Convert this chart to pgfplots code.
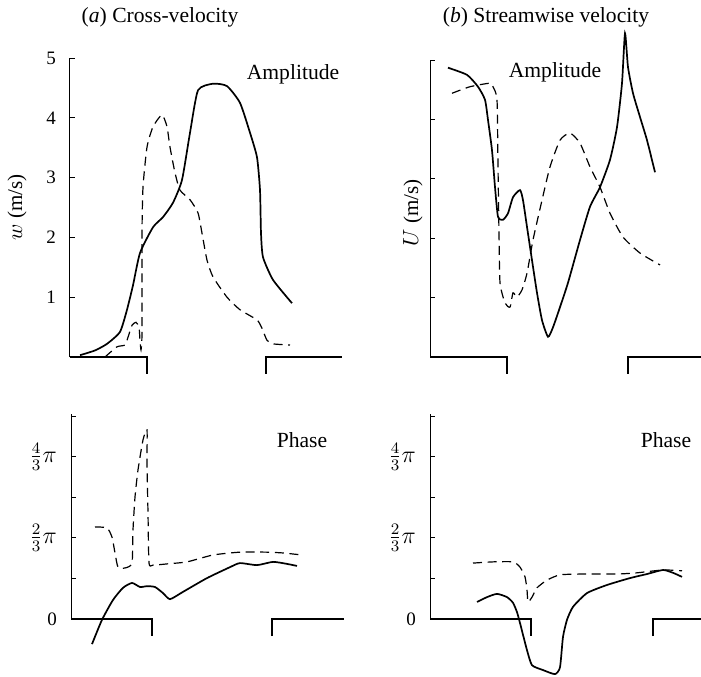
\documentclass[border=0pt]{standalone}
\usepackage{pgfplots}
\pgfplotsset{compat=1.18}
\usepackage{fontspec}
\setmainfont{Liberation Serif}
\pgfplotsset{
 panel/.style={
  scale only axis, axis x line=none, axis y line*=left,
  tick align=inside, major tick length=2.5pt, enlargelimits=false, clip=false,
  xtick=\empty, y axis line style={line width=0.5pt, black}, ytick style={line width=0.5pt, black},
  yticklabel style={font=\fontsize{9.5}{10}\selectfont, xshift=-3.5pt},
  ylabel style={font=\fontsize{10.5}{12}\selectfont, anchor=center},
 },
 sol/.style={black, line width=0.85pt, smooth, tension=0.35},
 das/.style={black, line width=0.6pt, smooth, tension=0.35, dash pattern=on 4.5pt off 2.8pt},
 step/.style={black, line width=1.1pt, sharp plot},
}
\newcommand{\lbl}{\fontsize{10.8}{12}\selectfont}
\newcommand{\zero}{{\fontsize{9.5}{10}\selectfont 0}}
\begin{document}
\begin{tikzpicture}
\useasboundingbox (0,0) rectangle (350.5pt,338pt);
% (a) amplitude
\begin{axis}[panel, at={(35pt,159.5pt)}, anchor=south west, width=136pt, height=149.5pt,
  xmin=0, xmax=272, ymin=0, ymax=5, ytick={1,2,3,4,5}, yticklabels={1,2,3,4,5},
  ylabel={$w$ (m/s)}, ylabel style={at={(axis description cs:-0.195,0.5)}}]
\addplot[step] coordinates {(0,0)(77,0)(77,-0.28)};
\addplot[step] coordinates {(196,-0.28)(196,0)(272,0)};
\addplot[sol] coordinates {(10,0.03)(25,0.11)(37,0.22)(50,0.42)(57,0.79)(63,1.2)(70,1.74)(83,2.17)(93,2.34)(103,2.58)(112,2.96)(120,3.75)(128,4.46)(143,4.57)(157,4.53)(170,4.25)(180,3.75)(187,3.34)(190,2.79)(191,2.07)(193,1.67)(203,1.29)(222,0.90)};
\addplot[das] coordinates {(35,0)(47,0.17)(55,0.2)(58,0.33)(62,0.53)(66,0.58)(69,0.5)(70,0.28)(71,0.12)(72,0.4)(72,2.07)(73,2.84)(77,3.51)(83,3.85)(92,4.05)(97,3.85)(100,3.51)(105,3.08)(110,2.79)(120,2.63)(128,2.41)(132,2.07)(137,1.62)(143,1.34)(157,1.0)(170,0.79)(187,0.62)(192,0.48)(197,0.28)(203,0.22)(220,0.2)};
\node[font=\lbl] at (axis cs:223,4.73) {Amplitude};
\node[font=\lbl] at (axis description cs:0.331,1.137) {(\textit{a}) Cross-velocity};
\end{axis}
% (b) amplitude
\begin{axis}[panel, at={(215pt,159.5pt)}, anchor=south west, width=135.5pt, height=148.5pt,
  xmin=0, xmax=271, ymin=0, ymax=5, ytick={1,2,3,4,5}, yticklabels={},
  ylabel={$U$ (m/s)}, ylabel style={at={(axis description cs:-0.063,0.485)}}]
\addplot[step] coordinates {(0,0)(77,0)(77,-0.28)};
\addplot[step] coordinates {(198,-0.28)(198,0)(271,0)};
\addplot[sol] coordinates {(18,4.87)(37,4.75)(48,4.55)(55,4.33)(58,3.99)(62,3.48)(65,2.86)(68,2.36)(73,2.31)(78,2.42)(83,2.69)(90,2.81)(93,2.64)(97,2.19)(102,1.63)(107,1.08)(112,0.62)(118,0.34)(123,0.5)(130,0.84)(138,1.25)(150,1.97)(160,2.53)(170,2.86)(180,3.32)(187,3.87)(192,4.61)(195,5.45)(198,4.88)(203,4.44)(210,4.04)(217,3.65)(225,3.11)};
\addplot[das] coordinates {(22,4.44)(40,4.55)(60,4.61)(63,4.55)(67,4.33)(68,3.2)(69,2.09)(70,1.25)(75,0.91)(80,0.84)(83,1.08)(87,1.01)(92,1.13)(97,1.41)(103,1.97)(112,2.64)(120,3.2)(130,3.65)(140,3.77)(150,3.6)(160,3.2)(170,2.86)(180,2.42)(193,2.02)(210,1.75)(230,1.55)};
\node[font=\lbl] at (axis cs:125,4.8) {Amplitude};
\node[font=\lbl] at (axis description cs:0.428,1.145) {(\textit{b}) Streamwise velocity};
\end{axis}
% (a) phase
\begin{axis}[panel, at={(35.5pt,28.5pt)}, anchor=south west, width=136.5pt, height=102.3pt,
  xmin=0, xmax=273, ymin=0, ymax=5.05, ytick={0,1,2,3,4,5},
  yticklabel style={font=\fontsize{11.5}{12}\selectfont},
  yticklabels={\zero,,$\frac{2}{3}\pi$,,$\frac{4}{3}\pi$,}]
\addplot[step] coordinates {(0,0)(81,0)(81,-0.42)};
\addplot[step] coordinates {(201,-0.42)(201,0)(273,0)};
\addplot[sol] coordinates {(21,-0.62)(31,-0.02)(42,0.47)(52,0.77)(61,0.89)(69,0.79)(76,0.81)(84,0.79)(92,0.64)(99,0.49)(112,0.67)(136,1.01)(159,1.28)(169,1.38)(186,1.33)(202,1.41)(216,1.36)(226,1.31)};
\addplot[das] coordinates {(24,2.27)(36,2.25)(41,2.02)(44,1.63)(47,1.28)(54,1.26)(61,1.38)(62,2.2)(64,3.01)(67,3.68)(72,4.42)(76,4.67)(76,3.85)(77,2.62)(78,1.38)(82,1.33)(96,1.36)(116,1.41)(142,1.58)(169,1.65)(196,1.65)(212,1.63)(231,1.58)};
\node[font=\lbl] at (axis cs:231,4.42) {Phase};
\end{axis}
% (b) phase
\begin{axis}[panel, at={(215pt,28.5pt)}, anchor=south west, width=135.5pt, height=102.3pt,
  xmin=0, xmax=271, ymin=0, ymax=5.05, ytick={0,1,2,3,4,5},
  yticklabel style={font=\fontsize{11.5}{12}\selectfont},
  yticklabels={\zero,,$\frac{2}{3}\pi$,,$\frac{4}{3}\pi$,}]
\addplot[step] coordinates {(0,0)(101,0)(101,-0.42)};
\addplot[step] coordinates {(223,-0.42)(223,0)(271,0)};
\addplot[sol] coordinates {(47,0.42)(57,0.54)(67,0.62)(77,0.54)(83,0.4)(87,0.17)(90,-0.1)(97,-0.77)(102,-1.14)(113,-1.26)(125,-1.36)(130,-1.19)(133,-0.44)(137,-0.02)(143,0.3)(157,0.64)(177,0.84)(200,1.01)(217,1.11)(233,1.21)(243,1.14)(252,1.04)};
\addplot[das] coordinates {(43,1.38)(63,1.41)(83,1.41)(90,1.28)(95,1.04)(97,0.72)(98,0.42)(102,0.54)(107,0.77)(117,0.96)(130,1.09)(153,1.11)(187,1.11)(207,1.14)(233,1.21)(252,1.19)};
\node[font=\lbl] at (axis cs:236,4.42) {Phase};
\end{axis}
\end{tikzpicture}
\end{document}
